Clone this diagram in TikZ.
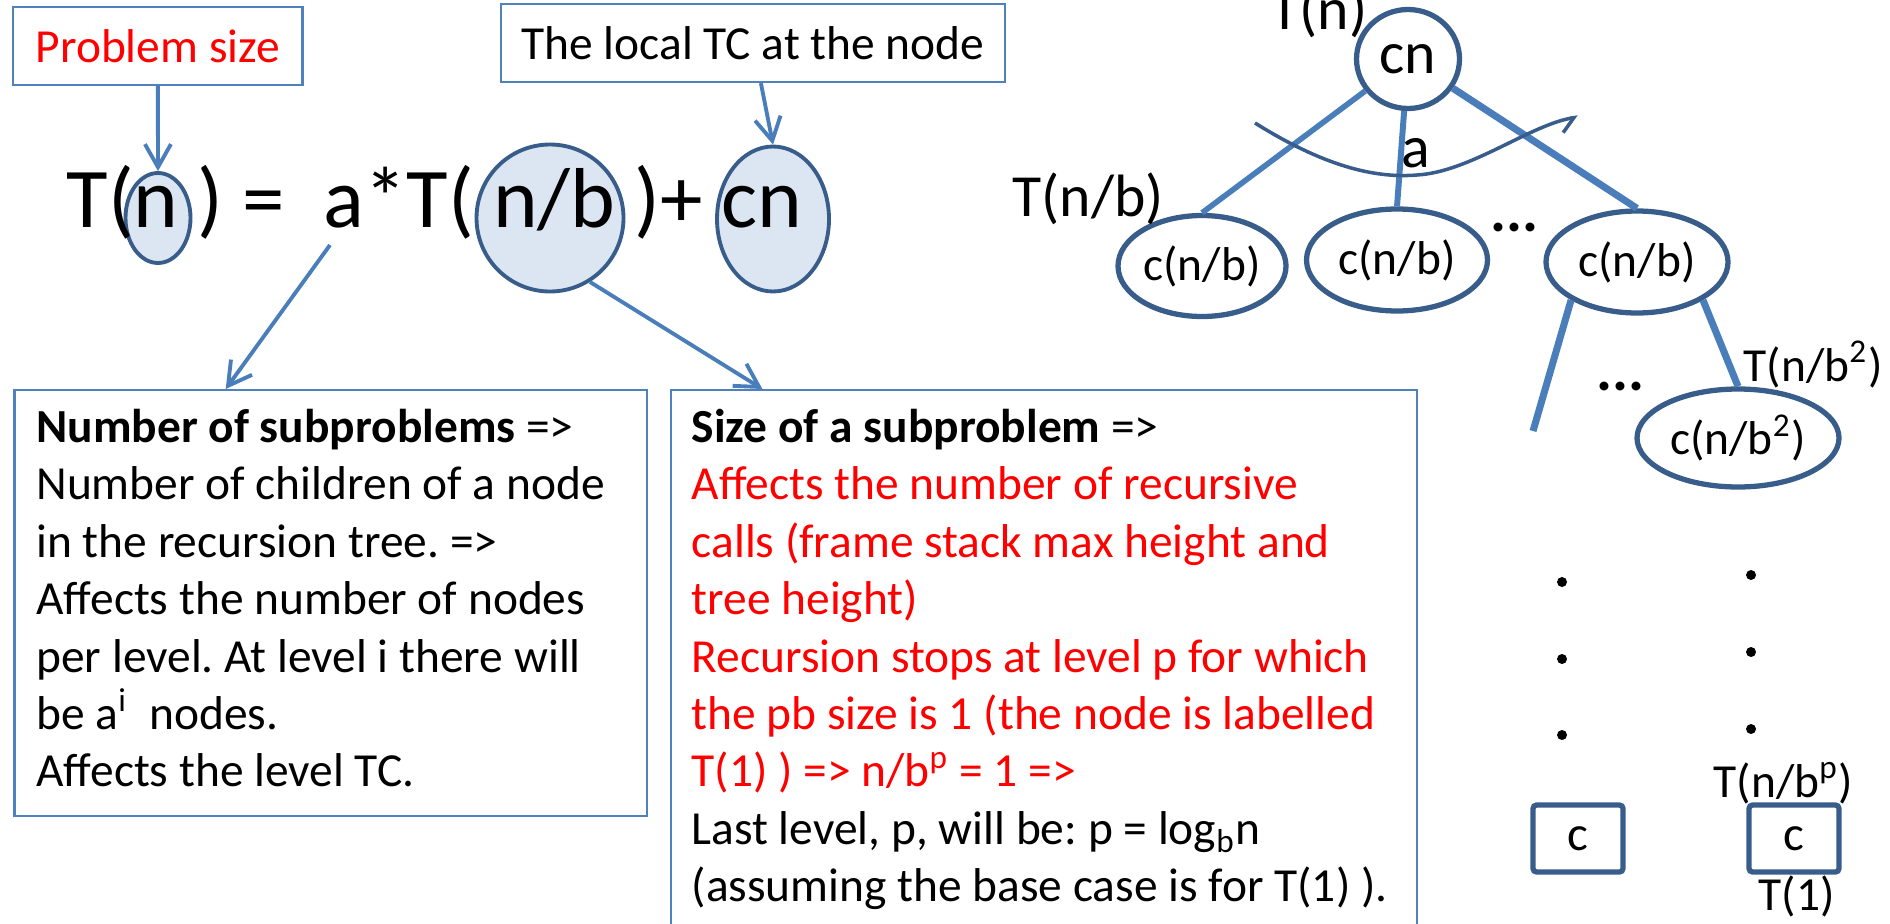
\documentclass[tikz,border=0pt]{standalone}
\usepackage{fontspec}
\setmainfont{Carlito}
\usepackage{xcolor}
\usetikzlibrary{arrows.meta, positioning, shapes.geometric, calc}

\definecolor{boxblue}{HTML}{4F81BD}
\definecolor{linkblue}{HTML}{4A7EBB}
\definecolor{rimblue}{HTML}{385D8A}
\definecolor{paleblue}{HTML}{DCE6F2}

\newcommand{\bodyfont}{\fontsize{13.5}{16.36}\selectfont\frenchspacing}
\newcommand{\treefont}{\fontsize{17}{20}\selectfont}
\newcommand{\eqfont}{\fontsize{24.2}{29}\selectfont}

\begin{document}
\begin{tikzpicture}[x=0.1mm, y=-0.1mm,
    notebox/.style={rectangle, draw=boxblue, line width=0.6pt, inner sep=0pt},
    termring/.style={ellipse, draw=rimblue, fill=paleblue, line width=1.1pt, inner sep=0pt},
    callnode/.style={ellipse, draw=rimblue, fill=white, line width=1.5pt, inner sep=0pt, font=\bodyfont},
    leafbox/.style={rectangle, draw=rimblue, line width=1.5pt, rounded corners=1pt, minimum width=9mm, minimum height=6.7mm, font=\fontsize{14}{17}\selectfont},
    pointer/.style={draw=linkblue, line width=1.1pt, -{Straight Barb[length=2.3mm, width=2.6mm]}},
    branch/.style={draw=linkblue, line width=1.6pt},
    treelabel/.style={anchor=base west, inner sep=0pt, font=\treefont},
    sublabel/.style={anchor=base west, inner sep=0pt, font=\bodyfont},
    bodytext/.style={anchor=base west, inner sep=0pt, align=flush left, font=\bodyfont}
]
\useasboundingbox (0,0) rectangle (1890,923);
\clip (0,0) rectangle (1890,923);

% The recurrence, with the three marked terms.
\node[termring, minimum width=6.5mm, minimum height=9mm] (en) at (158,218) {};
\node[termring, minimum width=14.7mm, minimum height=14.7mm] (enb) at (550,218) {};
\node[termring, minimum width=11.2mm, minimum height=14.5mm] (ecn) at (773,219) {};
\node[anchor=base west, inner sep=0pt, font=\eqfont] (recur) at (66,227) {T(n\ ) =\ \ a*T(\ n/b\ )+\ cn};

% Callouts above the recurrence
\node[notebox, minimum width=28.95mm, minimum height=7.8mm, font=\bodyfont, text=red] (psize) at (157.75,46) {Problem size};
\node[notebox, minimum width=50.4mm, minimum height=7.8mm, font=\bodyfont] (localtc) at (753,43) {The local TC at the node};
\draw[pointer] (psize) -- (en.north);
\draw[pointer] (localtc) -- (ecn.north);

% Explanation boxes
\node[notebox, anchor=north west, minimum width=63.26mm, minimum height=42.6mm] (subs) at (13.4,389) {};
\node[notebox, anchor=north west, minimum width=74.64mm, minimum height=60mm] (subsize) at (669.6,389) {};

\node[bodytext, text width=61mm] (substext) at (35.7,442) {\textbf{Number of subproblems} =>\\
Number of children of a node\\
in the recursion tree. =>\\
Affects the number of nodes\\
per level. At level i there will\\
be a\textsuperscript{i}\ \ nodes.\\
Affects the level TC.};

\node[bodytext, text width=72mm] (sizetext) at (691,442) {\textbf{Size of a subproblem} =>\\
\color{red}Affects the number of recursive\\
calls (frame stack max height and\\
tree height)\\
Recursion stops at level p for which\\
the pb size is 1 (the node is labelled\\
T(1) ) => n/b\textsuperscript{p} = 1 =>\\
\color{black}Last level, p, will be: p = log\textsubscript{b}n\\
(assuming the base case is for T(1) ).};

\coordinate (afoot) at (330,245);
\draw[pointer] (afoot) -- ($(subs.north west)!0.3345!(subs.north east)$);
\draw[pointer] (enb.-58) -- ($(subsize.north west)!0.124!(subsize.north east)$);

% Recursion tree
\node[callnode, minimum width=10.3mm, minimum height=9.9mm, font=\treefont] (root) at (1408,59) {cn};
\node[callnode, minimum width=16.8mm, minimum height=10.1mm] (kid1) at (1202,266) {c(n/b)};
\node[callnode, minimum width=18.1mm, minimum height=10.2mm] (kid2) at (1397,260) {c(n/b)};
\node[callnode, minimum width=18.2mm, minimum height=10.2mm] (kid3) at (1637,262) {c(n/b)};
\node[callnode, minimum width=20.2mm, minimum height=9.8mm] (grand) at (1738,438) {c(n/b\textsuperscript{2})};

\draw[branch] (root) -- (kid1.north);
\draw[branch, line width=1.7pt] (root) -- (kid2.north);
\draw[branch, line width=2pt] (root) -- (kid3.north);

% fan-out arc over the a children
\coordinate (arcfrom) at (1255,123);
\coordinate (arcto) at (1578,117);
\draw[rimblue, line width=1pt, -{Straight Barb[harpoon, swap, length=1.3mm, width=2.6mm]}] (arcfrom) .. controls (1330,170) and (1380,178) .. (1417,175) .. controls (1470,172) and (1530,125) .. (arcto);
\node[treelabel] (fanout) at (1401,167) {a};

\coordinate (stub) at (1533,431);
\draw[branch, line width=2pt] (kid3.-150) -- (stub);
\draw[branch, line width=2pt] (kid3.-30) -- (grand.north);

\node[treelabel, font=\treefont\bfseries] (gap1) at (1490,231) {...};
\node[treelabel, font=\treefont\bfseries] (gap2) at (1596,390) {...};

\foreach \y in {582,659,735} \fill (1562,\y) circle[radius=0.5mm];
\foreach \y in {575,652,729} \fill (1751,\y) circle[radius=0.5mm];

\node[leafbox] (leafl) at (1578,838.5) {c};
\node[leafbox] (leafr) at (1794,838.5) {c};

% Level labels
\node[treelabel] (toplab) at (1270,30) {T(n)};
\node[treelabel] (kidlab) at (1012,217) {T(n/b)};
\node[sublabel] (grandlab) at (1743,381) {T(n/b\textsuperscript{2})};
\node[sublabel] (deeplab) at (1713,797) {T(n/b\textsuperscript{p})};
\node[sublabel] (baselab) at (1758,910) {T(1)};
\end{tikzpicture}
\end{document}
